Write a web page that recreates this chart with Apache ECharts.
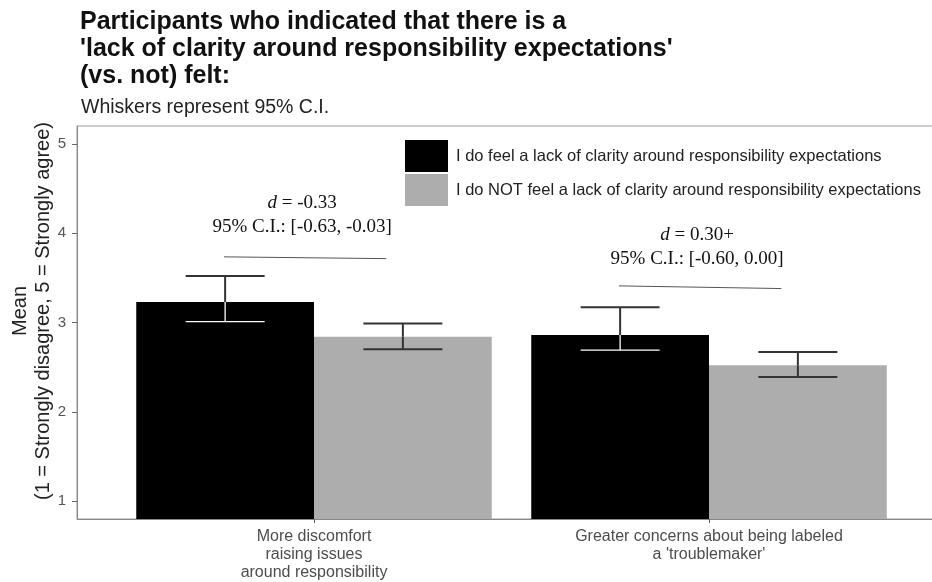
<!DOCTYPE html>
<html>
<head>
<meta charset="utf-8">
<script src="https://cdn.jsdelivr.net/npm/echarts@6/dist/echarts.min.js"></script>
<style>html,body{margin:0;padding:0;background:#fff}#c{width:932px;height:582px}</style>
</head>
<body>
<div id="c"></div>
<script>
// ---- data ----
const categories = ["More discomfort\nraising issues\naround responsibility", "Greater concerns about being labeled\na 'troublemaker'"];
const seriesNames = ["I do feel a lack of clarity around responsibility expectations", "I do NOT feel a lack of clarity around responsibility expectations"];
const meansYes = [3.23, 2.86];
const meansNo = [2.84, 2.52];
const lowerYes = [3.01, 2.69];
const upperYes = [3.52, 3.17];
const lowerNo = [2.70, 2.39];
const upperNo = [2.99, 2.67];
const effectLine1 = ["d = -0.33", "d = 0.30+"];
const effectLine2 = ["95% C.I.: [-0.63, -0.03]", "95% C.I.: [-0.60, 0.00]"];
const bracketY = [[3.735, 3.715], [3.41, 3.38]];
const yTicks = [1, 2, 3, 4, 5];

const Y_MIN = 0.8, Y_MAX = 5.2;
const DODGE = 0.45;     // bar width in category units
const WHISK = 0.1;      // half whisker width
const SANS = '"Liberation Sans", Arial, sans-serif';

function barItem(offset, color) {
  return function (params, api) {
    const x = api.value(0), m = api.value(1);
    const p1 = api.coord([x + offset - DODGE / 2, m]);
    const p2 = api.coord([x + offset + DODGE / 2, Y_MIN]);
    return { type: 'rect', shape: { x: p1[0], y: p1[1], width: p2[0] - p1[0], height: p2[1] - p1[1] }, style: { fill: color } };
  };
}
function errItem(offset, innerColor) {
  return function (params, api) {
    const x = api.value(0) + offset, lo = api.value(1), hi = api.value(2), m = api.value(3);
    const top = api.coord([x, hi]), bot = api.coord([x, lo]), mid = api.coord([x, m]);
    const l = api.coord([x - WHISK, hi])[0], r = api.coord([x + WHISK, hi])[0];
    const outer = '#333';
    const inner = innerColor || outer;
    const iw = innerColor ? 1.3 : 2;
    return {
      type: 'group', children: [
        { type: 'line', shape: { x1: top[0], y1: top[1], x2: mid[0], y2: mid[1] }, style: { stroke: outer, lineWidth: 2 } },
        { type: 'line', shape: { x1: l, y1: top[1], x2: r, y2: top[1] }, style: { stroke: outer, lineWidth: 2 } },
        { type: 'line', shape: { x1: mid[0], y1: mid[1], x2: bot[0], y2: bot[1] }, style: { stroke: inner, lineWidth: iw } },
        { type: 'line', shape: { x1: l, y1: bot[1], x2: r, y2: bot[1] }, style: { stroke: inner, lineWidth: iw } }
      ]
    };
  };
}

const idx = categories.map((c, i) => i);
const chart = echarts.init(document.getElementById('c'), null, { renderer: 'canvas' });
chart.setOption({
  animation: false,
  backgroundColor: '#fff',
  title: [
    { text: "Participants who indicated that there is a\n'lack of clarity around responsibility expectations'\n(vs. not) felt:", left: 75, top: 4,
      textStyle: { fontFamily: SANS, fontSize: 25, fontWeight: 'bold', color: '#111', lineHeight: 27 } },
    { text: 'Whiskers represent 95% C.I.', left: 76, top: 93,
      textStyle: { fontFamily: SANS, fontSize: 19.5, fontWeight: 'normal', color: '#222' } }
  ],
  graphic: [
    { type: 'text', x: 20, y: 311, rotation: Math.PI / 2,
      style: { text: 'Mean', align: 'center', verticalAlign: 'middle', font: '20px ' + SANS, fill: '#222' } },
    { type: 'text', x: 43, y: 311, rotation: Math.PI / 2,
      style: { text: '(1 = Strongly disagree, 5 = Strongly agree)', align: 'center', verticalAlign: 'middle', font: '20px ' + SANS, fill: '#222' } }
  ],
  legend: {
    orient: 'vertical', left: 400, top: 135, itemWidth: 43, itemHeight: 32, itemGap: 2,
    data: seriesNames.map(n => ({ name: n, icon: 'rect' })),
    textStyle: { fontFamily: SANS, fontSize: 16.5, color: '#222', padding: [0, 0, 0, 3] },
    backgroundColor: '#fff'
  },
  grid: { left: 77, right: -14, top: 126, bottom: 63, show: true, borderColor: '#999', borderWidth: 1, containLabel: false, outerBoundsMode: 'none' },
  xAxis: {
    type: 'value', min: -0.6, max: 1.6,
    axisLine: { show: true, onZero: false, lineStyle: { color: '#888', width: 1 } },
    splitLine: { show: false },
    axisTick: { show: true, customValues: idx, length: 4, lineStyle: { color: '#555' } },
    axisLabel: { customValues: idx, formatter: v => categories[Math.round(v)], fontFamily: SANS, fontSize: 16, color: '#4d4d4d', lineHeight: 18, margin: 9 }
  },
  yAxis: {
    type: 'value', min: Y_MIN, max: Y_MAX,
    axisLine: { show: true, onZero: false, lineStyle: { color: '#888' } },
    splitLine: { show: false },
    axisTick: { show: true, customValues: yTicks, length: 5, lineStyle: { color: '#666' } },
    axisLabel: { customValues: yTicks, fontFamily: SANS, fontSize: 15, color: '#555', margin: 11 }
  },
  series: [
    { name: seriesNames[0], type: 'custom', itemStyle: { color: '#000' }, renderItem: barItem(-DODGE / 2, '#000'), data: idx.map(i => [i, meansYes[i]]), z: 2 },
    { name: seriesNames[1], type: 'custom', itemStyle: { color: '#adadad' }, renderItem: barItem(DODGE / 2, '#adadad'), data: idx.map(i => [i, meansNo[i]]), z: 2 },
    { type: 'custom', renderItem: errItem(-DODGE / 2, '#fff'), data: idx.map(i => [i, lowerYes[i], upperYes[i], meansYes[i]]), z: 3 },
    { type: 'custom', renderItem: errItem(DODGE / 2, null), data: idx.map(i => [i, lowerNo[i], upperNo[i], meansNo[i]]), z: 3 },
    { type: 'custom', z: 3,
      renderItem: function (params, api) {
        const i = api.value(0);
        const a = api.coord([i - 0.228, bracketY[i][0]]), b = api.coord([i + 0.183, bracketY[i][1]]);
        const t1 = api.coord([i - 0.03, bracketY[i][0] + (i === 0 ? 0.60 : 0.57)]);
        const t2 = api.coord([i - 0.03, bracketY[i][0] + (i === 0 ? 0.335 : 0.30)]);
        const parts = effectLine1[i].split(' = ');
        return { type: 'group', children: [
          { type: 'line', shape: { x1: a[0], y1: a[1], x2: b[0], y2: b[1] }, style: { stroke: '#555', lineWidth: 1 } },
          { type: 'text', x: t1[0], y: t1[1], style: { text: '{i|' + parts[0] + '} = ' + parts[1], align: 'center', verticalAlign: 'middle',
              font: '19px "Liberation Serif", serif', fill: '#111',
              rich: { i: { fontStyle: 'italic', fontFamily: 'Liberation Serif', fontSize: 19, fill: '#111' } } } },
          { type: 'text', x: t2[0], y: t2[1], style: { text: effectLine2[i], align: 'center', verticalAlign: 'middle',
              font: '19px "Liberation Serif", serif', fill: '#111' } }
        ] };
      },
      data: idx.map(i => [i]) }
  ]
});
</script>
</body>
</html>
